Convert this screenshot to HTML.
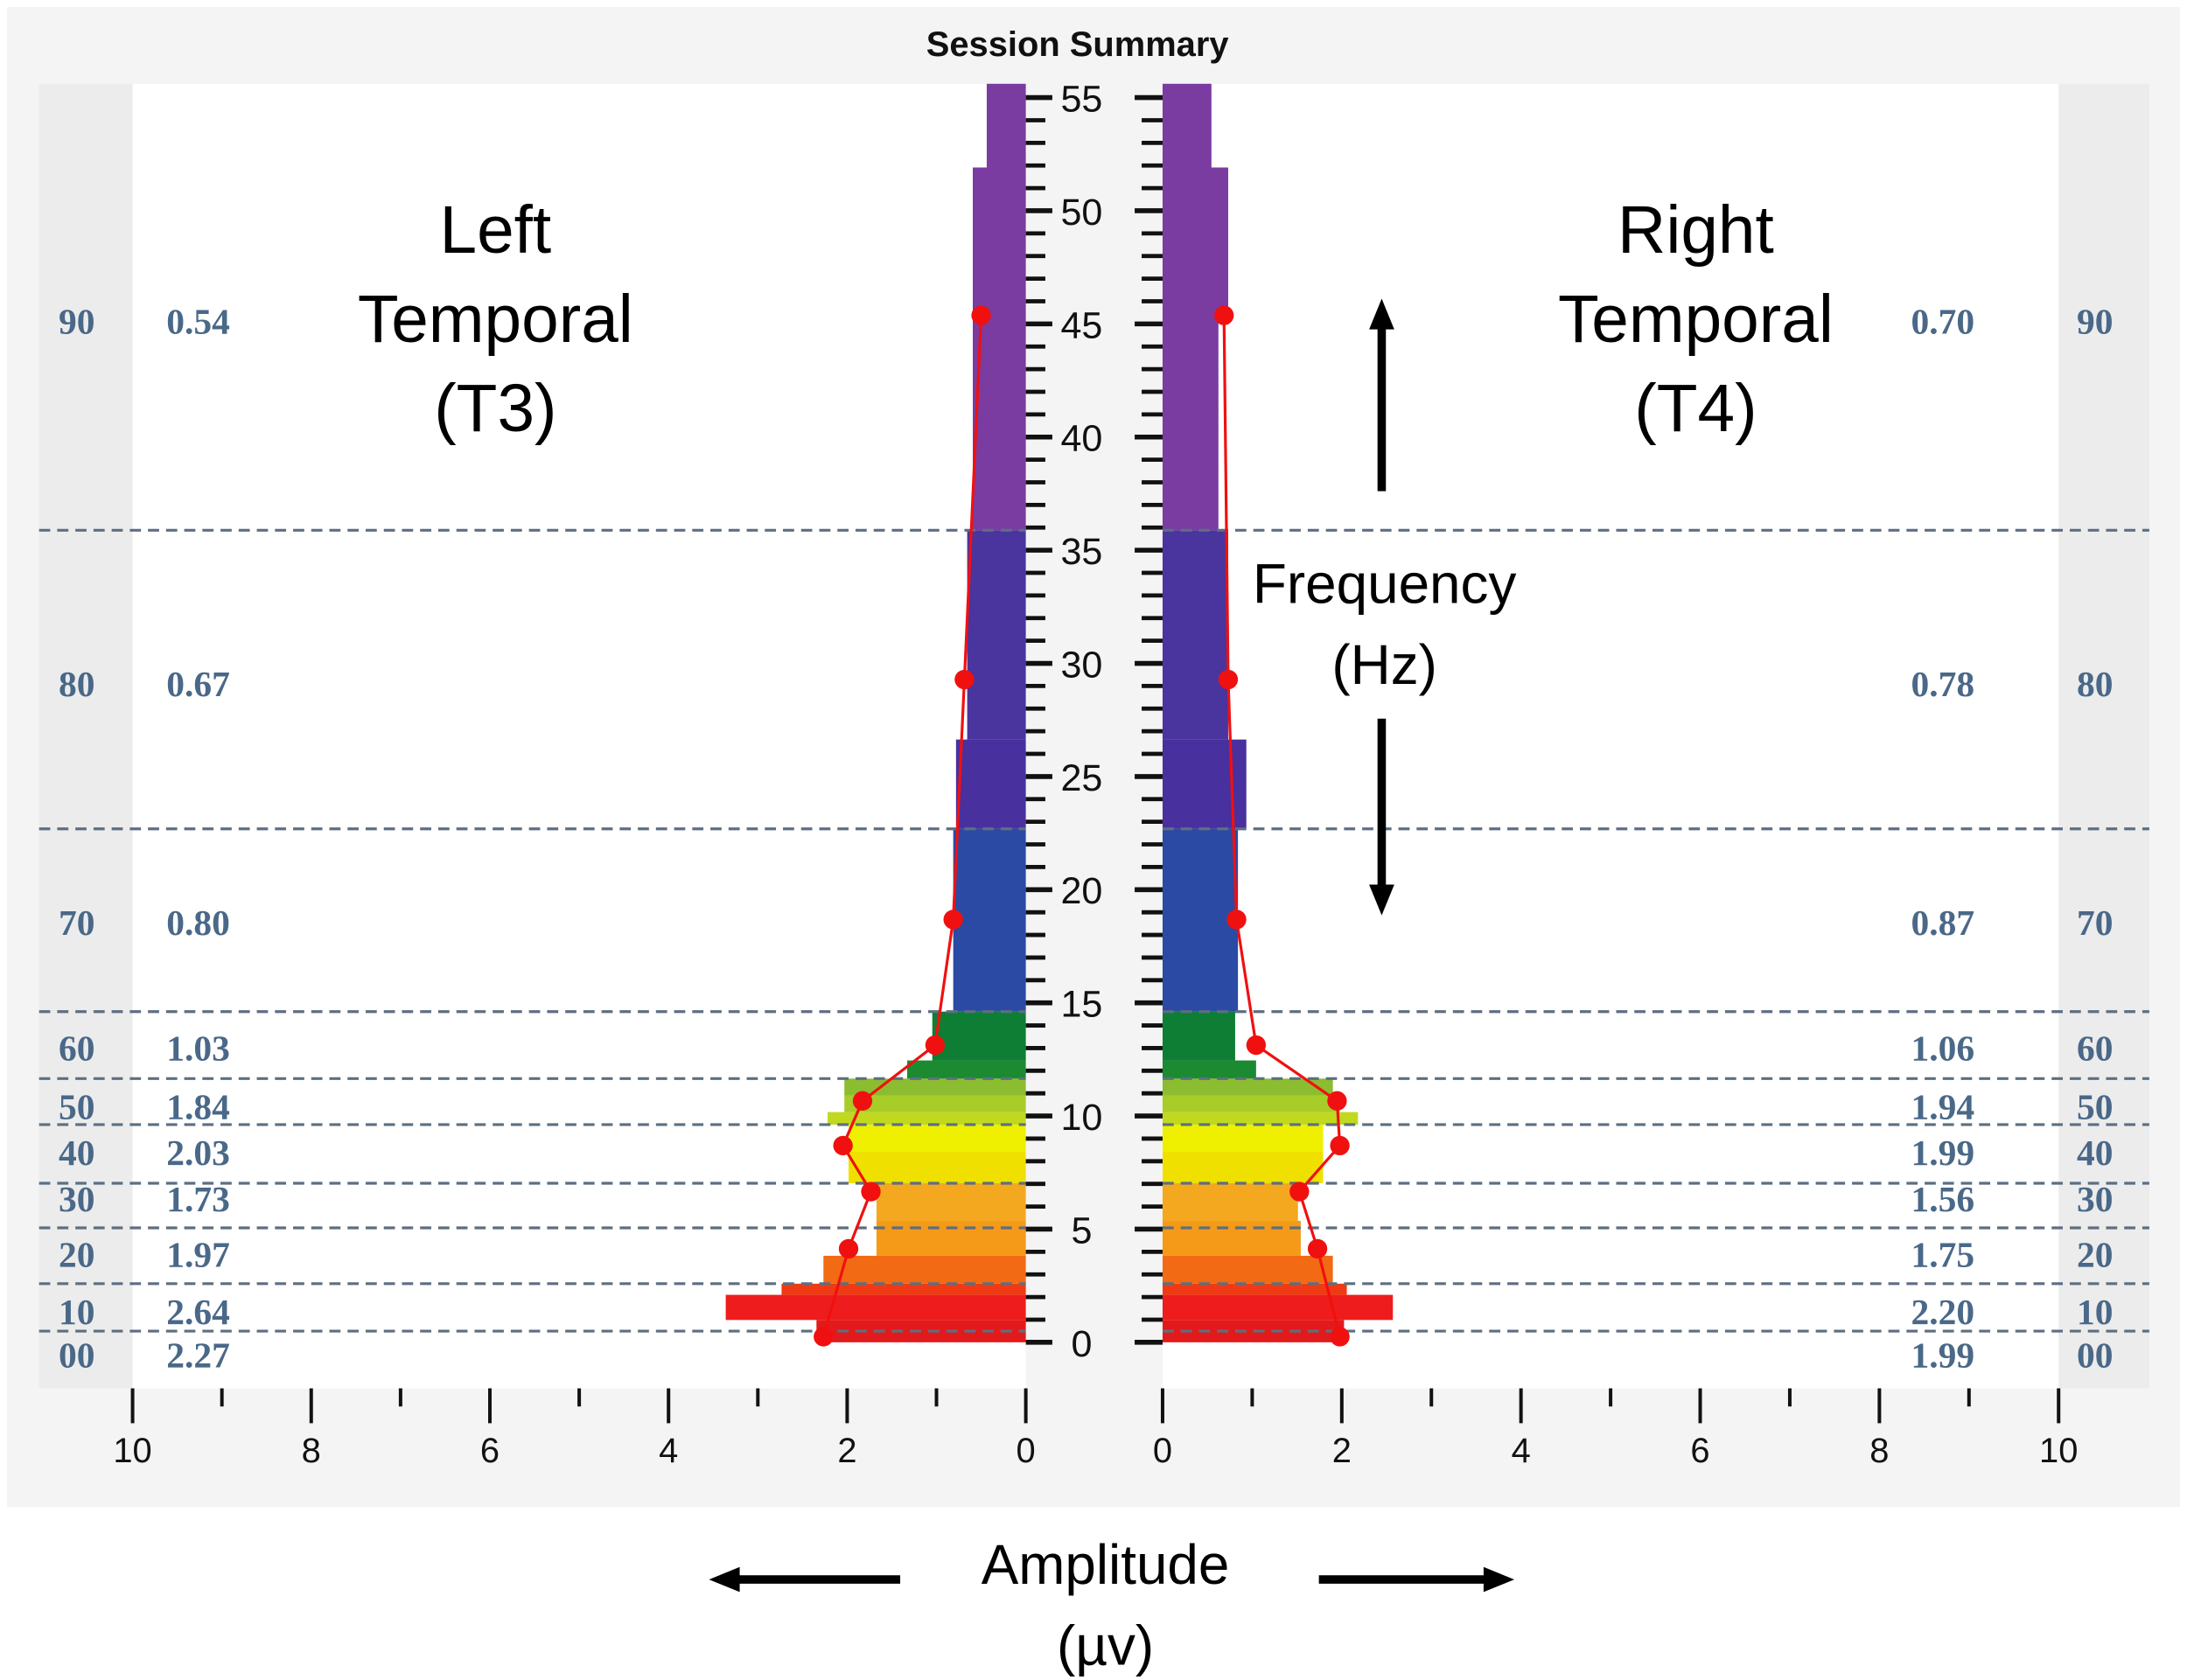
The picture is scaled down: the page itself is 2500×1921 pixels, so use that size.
<!DOCTYPE html>
<html><head><meta charset="utf-8"><style>
html,body{margin:0;padding:0;background:#fff;}
svg{display:block}
</style></head><body>
<svg id="s" width="2500" height="1921" viewBox="0 0 1567 1204" xmlns="http://www.w3.org/2000/svg" font-family="Liberation Sans, sans-serif">
<rect x="0" y="0" width="1567" height="1204" fill="#fff"/>
<rect x="5" y="5" width="1557" height="1075" fill="#f4f4f4"/>
<rect x="28" y="60" width="1512" height="935" fill="#ececec"/>
<rect x="95" y="60" width="1380" height="935" fill="#fff"/>
<rect x="735" y="60" width="98" height="935" fill="#f4f4f4"/>
<text x="772" y="40" text-anchor="middle" font-size="25" font-weight="bold" fill="#111">Session Summary</text>
<g id="bars"></g>
<g id="dash"></g>
<g id="ticks"></g>
<g id="lines"></g>
<g font-size="48" fill="#000" text-anchor="middle">
<text x="355" y="181">Left</text><text x="355" y="245">Temporal</text><text x="355" y="309">(T3)</text>
<text x="1215" y="181">Right</text><text x="1215" y="245">Temporal</text><text x="1215" y="309">(T4)</text>
</g>
<g font-size="40" fill="#000" text-anchor="middle">
<text x="992" y="432">Frequency</text><text x="992" y="490">(Hz)</text>
<text x="792" y="1135">Amplitude</text><text x="792" y="1193">(µv)</text>
</g>
<g stroke="#000" stroke-width="6">
<line x1="990" y1="352" x2="990" y2="232"/>
<line x1="990" y1="515" x2="990" y2="638"/>
<line x1="645" y1="1132" x2="528" y2="1132"/>
<line x1="945" y1="1132" x2="1065" y2="1132"/>
</g>
<g fill="#000">
<polygon points="990,214 981,236 999,236"/>
<polygon points="990,656 981,634 999,634"/>
<polygon points="508,1132 530,1123 530,1141"/>
<polygon points="1085,1132 1063,1123 1063,1141"/>
</g>
<g id="side" font-family="Liberation Serif, serif" font-size="26" font-weight="bold" fill="#4a6888" text-anchor="middle"></g>
</svg>
<script>
var NS="http://www.w3.org/2000/svg";
function el(p,t,a,txt){var e=document.createElementNS(NS,t);for(var k in a)e.setAttribute(k,a[k]);if(txt!==undefined)e.textContent=txt;document.getElementById(p).appendChild(e);}
var B=[
[946,962,585,963,"#e31a1c"],
[928,946,520,998,"#ee1c1c"],
[920,928,560,965,"#f03a14"],
[900,920,590,955,"#f26a14"],
[875,900,628,932,"#f49a18"],
[848,875,628,930,"#f4a820"],
[825,848,608,948,"#f0e000"],
[806,825,608,948,"#eef000"],
[797,806,593,973,"#c0d820"],
[785,797,605,960,"#a8cc28"],
[773,785,605,955,"#8cbc30"],
[760,773,650,900,"#1c8a30"],
[725,760,668,885,"#0e7e34"],
[594,725,683,887,"#2a4aa4"],
[530,594,685,893,"#48309e"],
[380,530,693,880,"#4a349e"],
[230,380,697,873,"#7a3ca0"],
[120,230,697,880,"#7a3ca0"],
[60,120,707,868,"#7a3ca0"]];
B.forEach(function(b){el("bars","rect",{x:b[2],y:b[0],width:735-b[2],height:b[1]-b[0],fill:b[4]});el("bars","rect",{x:833,y:b[0],width:b[3]-833,height:b[1]-b[0],fill:b[4]});});
[380,594,725,773,806,848,880,920,954].forEach(function(y){
el("dash","line",{x1:28,y1:y,x2:735,y2:y,stroke:"#5c6f82","stroke-width":2,"stroke-dasharray":"8,5"});
el("dash","line",{x1:833,y1:y,x2:1540,y2:y,stroke:"#5c6f82","stroke-width":2,"stroke-dasharray":"8,5"});});
for(var h=0;h<=55;h++){var y=962-h*16.22;var maj=h%5==0;
el("ticks","line",{x1:735,y1:y,x2:maj?754:749,y2:y,stroke:"#111","stroke-width":maj?3.5:3});
el("ticks","line",{x1:maj?813:818,y1:y,x2:833,y2:y,stroke:"#111","stroke-width":maj?3.5:3});
if(maj)el("ticks","text",{x:775,y:y+10,"text-anchor":"middle","font-size":27,fill:"#111"},""+h);}
for(var k=0;k<=10;k++){var maj=k%2==0;var xl=735-k*64,xr=833+k*64.2;
[xl,xr].forEach(function(x){el("ticks","line",{x1:x,y1:995,x2:x,y2:maj?1020:1008,stroke:"#111","stroke-width":2.5});
if(maj)el("ticks","text",{x:x,y:1048,"text-anchor":"middle","font-size":25,fill:"#111"},""+k);});}
var L=[[590,958],[608,895],[624,854],[604,821],[618,789],[670,749],[683,659],[691,487],[703,226]];
var R=[[960,958],[944,895],[931,854],[960,821],[958,789],[900,749],[886,659],[880,487],[877,226]];
[L,R].forEach(function(P){el("lines","polyline",{points:P.map(function(p){return p.join(",")}).join(" "),fill:"none",stroke:"#f01010","stroke-width":2});
P.forEach(function(p){el("lines","circle",{cx:p[0],cy:p[1],r:7,fill:"#f01010"});});});
var S=[[230,"90","0.54","0.70"],[490,"80","0.67","0.78"],[661,"70","0.80","0.87"],[751,"60","1.03","1.06"],[793,"50","1.84","1.94"],[826,"40","2.03","1.99"],[859,"30","1.73","1.56"],[899,"20","1.97","1.75"],[940,"10","2.64","2.20"],[971,"00","2.27","1.99"]];
S.forEach(function(s){var y=s[0]+9;
el("side","text",{x:55,y:y},s[1]);el("side","text",{x:142,y:y},s[2]);
el("side","text",{x:1392,y:y},s[3]);el("side","text",{x:1501,y:y},s[1]);});
</script>
</body></html>
